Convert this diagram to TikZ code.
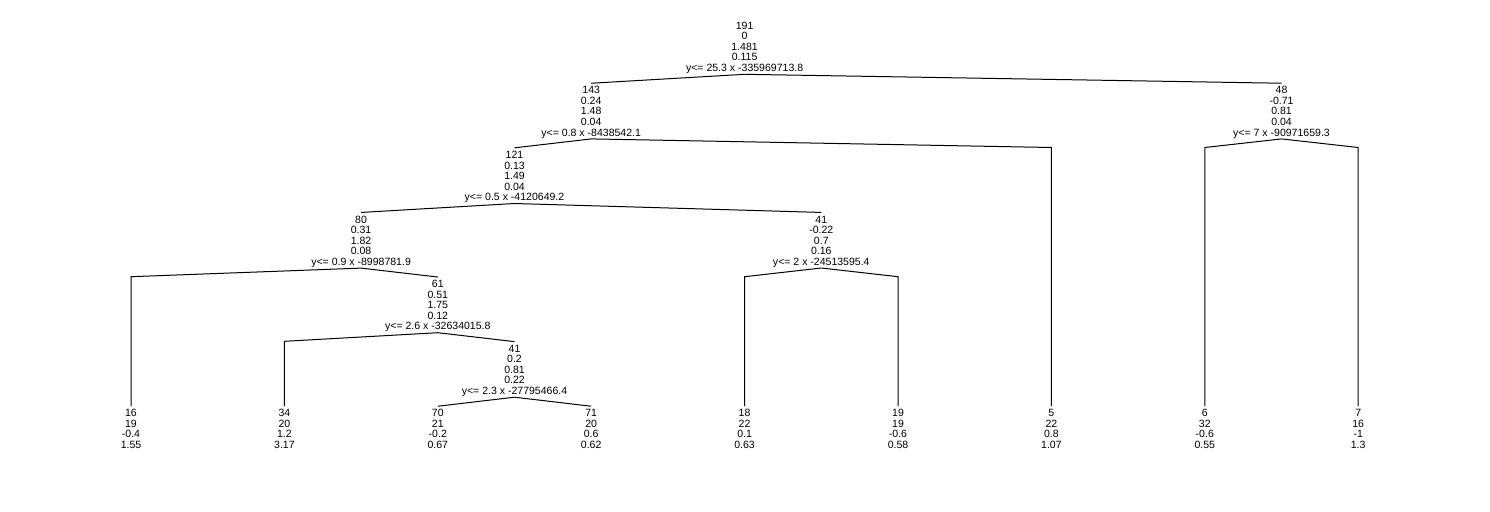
\documentclass[tikz,border=0pt]{standalone}
\usepackage{fontspec}
\setmainfont{Liberation Sans}
\begin{document}
\begin{tikzpicture}[x=0.75pt,y=-0.75pt,
  lbl/.style={font=\fontsize{7.9}{7.9}\selectfont, align=center, inner sep=0.3pt, anchor=north},
  br/.style={line width=0.75pt, line join=miter, line cap=butt}]
\useasboundingbox[fill=white] (0,0) rectangle (1490,511);
% internal nodes
\node[lbl] (r)    at (744.6, 21.3)  {191\\0\\1.481\\0.115\\y<= 25.3 x -335969713.8};
\node[lbl] (n143) at (591.2, 85.9)  {143\\0.24\\1.48\\0.04\\y<= 0.8 x -8438542.1};
\node[lbl] (n48)  at (1281.5, 85.9) {48\\-0.71\\0.81\\0.04\\y<= 7 x -90971659.3};
\node[lbl] (n121) at (514.5, 150.5) {121\\0.13\\1.49\\0.04\\y<= 0.5 x -4120649.2};
\node[lbl] (n80)  at (361.1, 215.1) {80\\0.31\\1.82\\0.08\\y<= 0.9 x -8998781.9};
\node[lbl] (n41a) at (821.3, 215.1) {41\\-0.22\\0.7\\0.16\\y<= 2 x -24513595.4};
\node[lbl] (n61)  at (437.8, 279.7) {61\\0.51\\1.75\\0.12\\y<= 2.6 x -32634015.8};
\node[lbl] (n41b) at (514.5, 344.3) {41\\0.2\\0.81\\0.22\\y<= 2.3 x -27795466.4};
% leaves
\node[lbl] (n16) at (131.0, 408.9)  {16\\19\\-0.4\\1.55};
\node[lbl] (n34) at (284.4, 408.9)  {34\\20\\1.2\\3.17};
\node[lbl] (n70) at (437.8, 408.9)  {70\\21\\-0.2\\0.67};
\node[lbl] (n71) at (591.2, 408.9)  {71\\20\\0.6\\0.62};
\node[lbl] (n18) at (744.6, 408.9)  {18\\22\\0.1\\0.63};
\node[lbl] (n19) at (898.0, 408.9)  {19\\19\\-0.6\\0.58};
\node[lbl] (n5)  at (1051.4, 408.9) {5\\22\\0.8\\1.07};
\node[lbl] (n6)  at (1204.8, 408.9) {6\\32\\-0.6\\0.55};
\node[lbl] (n7)  at (1358.2, 408.9) {7\\16\\-1\\1.3};
% shoulders
\coordinate (s16) at (131.0, 276.7);
\coordinate (s34) at (284.4, 341.3);
\coordinate (s18) at (744.6, 276.7);
\coordinate (s19) at (898.0, 276.7);
\coordinate (s5)  at (1051.4, 147.5);
\coordinate (s6)  at (1204.8, 147.5);
\coordinate (s7)  at (1358.2, 147.5);
% branches
\draw[br] (r.south) -- ([yshift=2pt]n143.north);
\draw[br] (r.south) -- ([yshift=2pt]n48.north);
\draw[br] (n143.south) -- ([yshift=2pt]n121.north);
\draw[br] (n143.south) -- (s5) -- ([yshift=2pt]n5.north);
\draw[br] (n48.south) -- (s6) -- ([yshift=2pt]n6.north);
\draw[br] (n48.south) -- (s7) -- ([yshift=2pt]n7.north);
\draw[br] (n121.south) -- ([yshift=2pt]n80.north);
\draw[br] (n121.south) -- ([yshift=2pt]n41a.north);
\draw[br] (n80.south) -- (s16) -- ([yshift=2pt]n16.north);
\draw[br] (n80.south) -- ([yshift=2pt]n61.north);
\draw[br] (n41a.south) -- (s18) -- ([yshift=2pt]n18.north);
\draw[br] (n41a.south) -- (s19) -- ([yshift=2pt]n19.north);
\draw[br] (n61.south) -- (s34) -- ([yshift=2pt]n34.north);
\draw[br] (n61.south) -- ([yshift=2pt]n41b.north);
\draw[br] (n41b.south) -- ([yshift=2pt]n70.north);
\draw[br] (n41b.south) -- ([yshift=2pt]n71.north);
\end{tikzpicture}
\end{document}
